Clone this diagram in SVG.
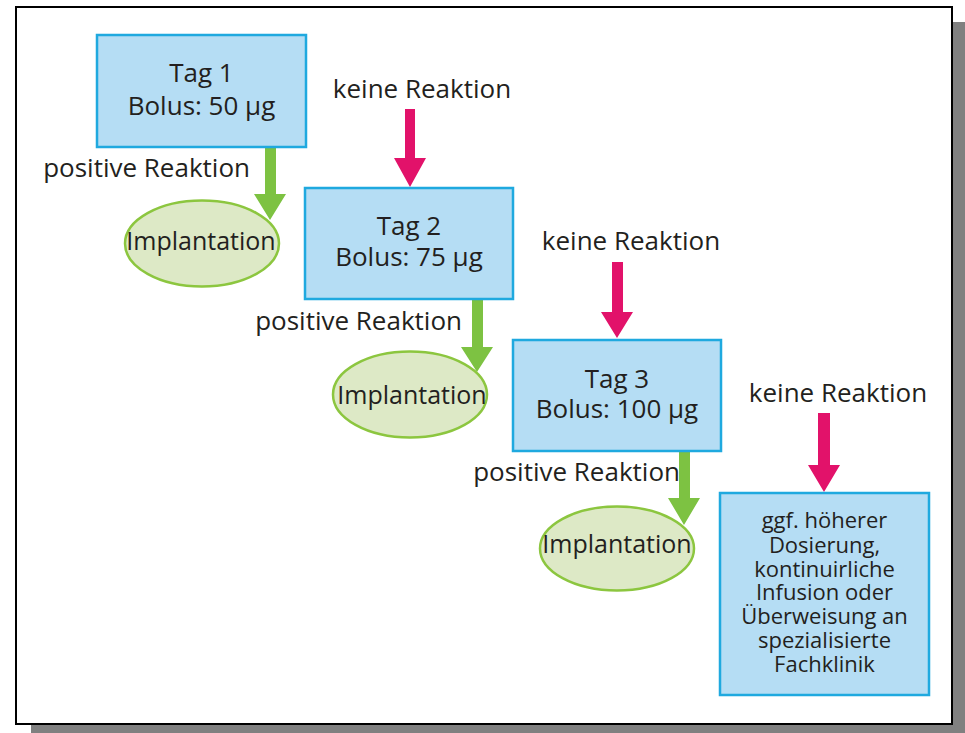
<svg xmlns="http://www.w3.org/2000/svg" width="965" height="733" viewBox="0 0 965 733">
  <style>
    text { font-family: "Open Sans", "Liberation Sans", sans-serif; fill: #231f20; }
    .box { fill: #b5ddf4; stroke: #1fa9df; stroke-width: 2.5; }
    .ell { fill: #dde9c6; stroke: #8cc63f; stroke-width: 2.5; }
    .t26 { font-size: 26px; text-anchor: middle; }
    .lbl { font-size: 26px; }
    .imp { font-size: 25px; text-anchor: middle; }
    .small { font-size: 22px; text-anchor: middle; }
    .green { fill: #7dc242; }
    .pink { fill: #e2126a; }
  </style>
  <rect x="0" y="0" width="965" height="733" fill="#ffffff"/>
  <rect x="31" y="22" width="936" height="717" fill="#808080"/>
  <rect x="16" y="7" width="936" height="717" fill="#ffffff" stroke="#000000" stroke-width="2"/>

  <g id="connectors">
    <path class="green" d="M265 147 H276 V194 H286 L270 220 L254 194 H265 Z"/>
    <path class="green" d="M472 298 H483 V347 H493 L477 372 L461 347 H472 Z"/>
    <path class="green" d="M679 451 H690 V498 H700 L684 525 L668 498 H679 Z"/>
    <path class="pink" d="M405 109 H415 V158 H426 L410 187 L394 158 H405 Z"/>
    <path class="pink" d="M612 262 H623 V312 H633 L617 338 L601 312 H612 Z"/>
    <path class="pink" d="M818 413 H830 V465 H840 L824 492 L808 465 H818 Z"/>
  </g>

  <g id="labels">
    <text class="lbl" x="250" y="177" text-anchor="end">positive Reaktion</text>
    <text class="lbl" x="462" y="330" text-anchor="end">positive Reaktion</text>
    <text class="lbl" x="680" y="481" text-anchor="end">positive Reaktion</text>
    <text class="lbl" x="422" y="98" text-anchor="middle">keine Reaktion</text>
    <text class="lbl" x="631" y="250" text-anchor="middle">keine Reaktion</text>
    <text class="lbl" x="838" y="402" text-anchor="middle">keine Reaktion</text>
  </g>

  <g id="tag1">
    <rect class="box" x="97" y="35" width="209" height="112"/>
    <text class="t26" x="201.5" y="82">Tag 1</text>
    <text class="t26" x="201.5" y="115">Bolus: 50 µg</text>
  </g>
  <g id="tag2">
    <rect class="box" x="305" y="188" width="208" height="111"/>
    <text class="t26" x="409" y="235">Tag 2</text>
    <text class="t26" x="409" y="266">Bolus: 75 µg</text>
  </g>
  <g id="tag3">
    <rect class="box" x="513" y="340" width="208" height="111"/>
    <text class="t26" x="617" y="388">Tag 3</text>
    <text class="t26" x="617" y="418">Bolus: 100 µg</text>
  </g>
  <g id="impl1">
    <ellipse class="ell" cx="202" cy="243.5" rx="77" ry="43"/>
    <text class="imp" x="201" y="250">Implantation</text>
  </g>
  <g id="impl2">
    <ellipse class="ell" cx="410" cy="394.5" rx="77" ry="43"/>
    <text class="imp" x="412" y="404">Implantation</text>
  </g>
  <g id="impl3">
    <ellipse class="ell" cx="617" cy="548.5" rx="77" ry="42"/>
    <text class="imp" x="617" y="553">Implantation</text>
  </g>
  <g id="fachklinik">
    <rect class="box" x="720" y="493" width="209" height="202"/>
    <text class="small" x="824.5" y="528">ggf. höherer</text>
    <text class="small" x="824.5" y="553">Dosierung,</text>
    <text class="small" x="824.5" y="577">kontinuirliche</text>
    <text class="small" x="824.5" y="600">Infusion oder</text>
    <text class="small" x="824.5" y="624">Überweisung an</text>
    <text class="small" x="824.5" y="648">spezialisierte</text>
    <text class="small" x="824.5" y="672">Fachklinik</text>
  </g>
</svg>
